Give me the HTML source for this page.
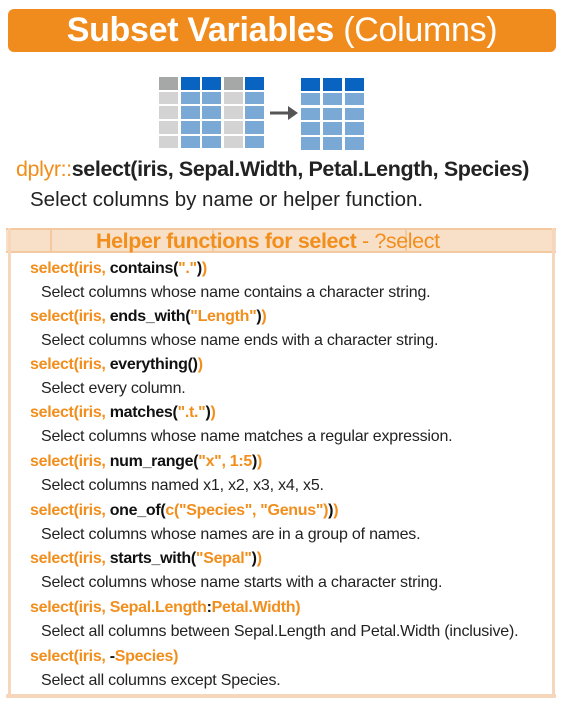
<!DOCTYPE html>
<html><head><style>
body{margin:0;width:563px;height:705px;background:#fff;position:relative;overflow:hidden;font-family:"Liberation Sans",sans-serif;}
.hdr{position:absolute;left:8px;top:9px;width:548px;height:43px;background:#f08c1e;border-radius:6px;color:#fff;text-align:center;font-size:34px;line-height:43px;letter-spacing:-0.3px}
.g{position:absolute;display:grid;gap:2px;}
.g div{width:19px;height:12.5px}
.t{position:absolute;white-space:nowrap;}
.c{left:30px;font-size:16px;font-weight:bold;color:#f28e1c;letter-spacing:-0.3px}
.c b{color:#111}
.d{left:41px;font-size:16px;color:#222;letter-spacing:-0.2px}
</style></head><body>
<div class="hdr"><b>Subset Variables</b> (Columns)</div>
<div class="g" style="left:159px;top:77px;grid-template-columns:repeat(5,19.6px);grid-template-rows:repeat(5,12.7px)">
<div style="background:#a6a8a7"></div><div style="background:#0863c1"></div><div style="background:#0863c1"></div><div style="background:#a6a8a7"></div><div style="background:#0863c1"></div>
<div style="background:#d3d3d3"></div><div style="background:#7aa9d6"></div><div style="background:#7aa9d6"></div><div style="background:#d3d3d3"></div><div style="background:#7aa9d6"></div>
<div style="background:#d3d3d3"></div><div style="background:#7aa9d6"></div><div style="background:#7aa9d6"></div><div style="background:#d3d3d3"></div><div style="background:#7aa9d6"></div>
<div style="background:#d3d3d3"></div><div style="background:#7aa9d6"></div><div style="background:#7aa9d6"></div><div style="background:#d3d3d3"></div><div style="background:#7aa9d6"></div>
<div style="background:#d3d3d3"></div><div style="background:#7aa9d6"></div><div style="background:#7aa9d6"></div><div style="background:#d3d3d3"></div><div style="background:#7aa9d6"></div>
</div>
<div class="g" style="left:301px;top:78px;grid-template-columns:repeat(3,20px);grid-template-rows:repeat(5,12.8px)">
<div style="background:#0863c1"></div><div style="background:#0863c1"></div><div style="background:#0863c1"></div>
<div style="background:#7aa9d6"></div><div style="background:#7aa9d6"></div><div style="background:#7aa9d6"></div>
<div style="background:#7aa9d6"></div><div style="background:#7aa9d6"></div><div style="background:#7aa9d6"></div>
<div style="background:#7aa9d6"></div><div style="background:#7aa9d6"></div><div style="background:#7aa9d6"></div>
<div style="background:#7aa9d6"></div><div style="background:#7aa9d6"></div><div style="background:#7aa9d6"></div>
</div>
<svg style="position:absolute;left:268px;top:104px" width="32" height="18"><line x1="2" y1="9" x2="22" y2="9" stroke="#555" stroke-width="3"/><polygon points="20,2 30,9 20,16" fill="#555"/></svg>
<div class="t" style="left:16px;top:157px;font-size:21.5px;color:#222;font-weight:bold;letter-spacing:-0.4px"><span style="color:#f28e1c;font-weight:normal">dplyr::</span>select(iris, Sepal.Width, Petal.Length, Species)</div>
<div class="t" style="left:30px;top:188px;font-size:20.5px;color:#222">Select columns by name or helper function.</div>
<div style="position:absolute;left:6px;top:228px;width:550px;height:25px;background:#f8e0c8;border-top:2px solid #f5c9a0;border-bottom:2px solid #f5c9a0;box-sizing:border-box"></div>
<div style="position:absolute;left:8px;top:228px;width:3px;height:470px;background:#f7d7bb"></div>
<div style="position:absolute;left:552px;top:228px;width:3px;height:470px;background:#f7d7bb"></div>
<div style="position:absolute;left:6px;top:694px;width:550px;height:4px;background:#f7d7bb"></div>
<div style="position:absolute;left:50px;top:228px;width:2px;height:25px;background:#f5c9a0"></div>
<div style="position:absolute;left:212px;top:228px;width:2px;height:25px;background:#f5c9a0"></div>
<div style="position:absolute;left:405px;top:228px;width:2px;height:25px;background:#f5c9a0"></div>
<div class="t" style="left:96px;top:229px;font-size:21.5px;color:#f28e1c;font-weight:bold;letter-spacing:-0.4px">Helper functions for select <span style="font-weight:normal">- ?select</span></div>
<div class="t c" style="top:260px">select(iris, <b>contains(</b>"."<b>)</b>)</div>
<div class="t d" style="top:284px">Select columns whose name contains a character string.</div>
<div class="t c" style="top:308px">select(iris, <b>ends_with(</b>"Length"<b>)</b>)</div>
<div class="t d" style="top:332px">Select columns whose name ends with a character string.</div>
<div class="t c" style="top:356px">select(iris, <b>everything()</b>)</div>
<div class="t d" style="top:380px">Select every column.</div>
<div class="t c" style="top:404px">select(iris, <b>matches(</b>".t."<b>)</b>)</div>
<div class="t d" style="top:428px">Select columns whose name matches a regular expression.</div>
<div class="t c" style="top:453px">select(iris, <b>num_range(</b>"x", 1:5<b>)</b>)</div>
<div class="t d" style="top:477px">Select columns named x1, x2, x3, x4, x5.</div>
<div class="t c" style="top:502px">select(iris, <b>one_of(</b>c("Species", "Genus")<b>)</b>)</div>
<div class="t d" style="top:526px">Select columns whose names are in a group of names.</div>
<div class="t c" style="top:550px">select(iris, <b>starts_with(</b>"Sepal"<b>)</b>)</div>
<div class="t d" style="top:574px">Select columns whose name starts with a character string.</div>
<div class="t c" style="top:599px">select(iris, Sepal.Length<b>:</b>Petal.Width)</div>
<div class="t d" style="top:623px">Select all columns between Sepal.Length and Petal.Width (inclusive).</div>
<div class="t c" style="top:648px">select(iris, <b>-</b>Species)</div>
<div class="t d" style="top:672px">Select all columns except Species.</div>
</body></html>
